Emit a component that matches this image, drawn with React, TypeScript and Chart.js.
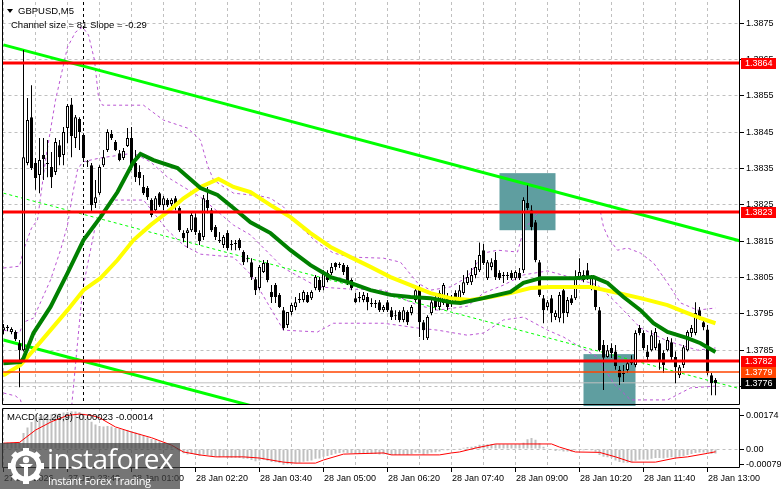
import React, { useEffect, useRef, useState } from "react";
import { Chart, registerables } from "chart.js";
Chart.register(...registerables);

// ---------------- DATA ----------------
// GBPUSD M5 candles, bar index 0 = 27 Jan 22:20, one bar per 5 minutes
const opens = [
  1.37905,1.37911,1.37900,1.37900,1.37869,1.37850,1.38365,1.38491,1.38365,1.38332,
  1.38387,1.38365,1.38354,1.38340,1.38414,1.38387,1.38461,1.38526,1.38434,1.38486,
  1.38442,1.38370,1.38359,1.38255,1.38282,1.38359,1.38401,1.38445,1.38423,1.38392,
  1.38379,1.38412,1.38434,1.38365,1.38340,1.38299,1.38296,1.38263,1.38235,1.38282,
  1.38249,1.38263,1.38252,1.38268,1.38241,1.38172,1.38172,1.38180,1.38216,1.38172,
  1.38161,1.38263,1.38235,1.38189,1.38153,1.38139,1.38172,1.38139,1.38145,1.38153,
  1.38120,1.38103,1.38092,1.38045,1.38021,1.38065,1.38090,1.38010,1.38029,1.38002,
  1.37960,1.37919,1.37955,1.37969,1.37991,1.37988,1.38002,1.37993,1.38021,1.38043,
  1.38024,1.38062,1.38062,1.38090,1.38087,1.38084,1.38079,1.38043,1.37993,1.37996,
  1.37988,1.37996,1.37980,1.37977,1.37982,1.37960,1.37982,1.37960,1.37946,1.37955,
  1.37933,1.37955,1.37952,1.37988,1.38021,1.37927,1.37883,1.37952,1.37993,1.37969,
  1.37980,1.37996,1.37980,1.38007,1.37988,1.38007,1.38035,1.38037,1.38057,1.38070,
  1.38125,1.38048,1.38079,1.38098,1.38062,1.38057,1.38054,1.38062,1.38048,1.38062,
  1.38070,1.38255,1.38235,1.38202,1.38092,1.37993,1.37969,1.37993,1.37941,1.37938,
  1.38015,1.37952,1.37993,1.37993,1.38051,1.38057,1.38070,1.38024,1.38024,1.37960,
  1.37864,1.37831,1.37856,1.37846,1.37796,1.37787,1.37795,1.37823,1.37809,1.37911,
  1.37897,1.37846,1.37850,1.37856,1.37869,1.37842,1.37850,1.37872,1.37831,1.37781,
  1.37809,1.37850,1.37897,1.37897,1.37960,1.37927,1.37907,1.37781,1.37768
];
const highs = [
  1.37922,1.37919,1.37913,1.37905,1.37878,1.38676,1.38544,1.38579,1.38379,1.38434,
  1.38434,1.38428,1.38395,1.38434,1.38428,1.38464,1.38527,1.38544,1.38497,1.38491,
  1.38447,1.38373,1.38365,1.38318,1.38359,1.38401,1.38458,1.38456,1.38428,1.38401,
  1.38406,1.38461,1.38464,1.38401,1.38359,1.38332,1.38302,1.38268,1.38274,1.38285,
  1.38274,1.38268,1.38268,1.38274,1.38246,1.38180,1.38186,1.38233,1.38227,1.38180,
  1.38277,1.38299,1.38241,1.38194,1.38175,1.38167,1.38180,1.38153,1.38153,1.38158,
  1.38125,1.38112,1.38103,1.38051,1.38084,1.38098,1.38098,1.38029,1.38035,1.38007,
  1.37969,1.37933,1.37980,1.37996,1.38007,1.38015,1.38010,1.38015,1.38057,1.38051,
  1.38070,1.38070,1.38090,1.38092,1.38092,1.38090,1.38084,1.38048,1.38007,1.38010,
  1.38010,1.38007,1.37993,1.37988,1.37988,1.37974,1.37988,1.37969,1.37960,1.37960,
  1.37969,1.37960,1.37974,1.38021,1.38029,1.37933,1.37946,1.37993,1.38007,1.38015,
  1.38035,1.38007,1.38002,1.38015,1.38029,1.38057,1.38070,1.38076,1.38098,1.38146,
  1.38142,1.38098,1.38103,1.38120,1.38070,1.38065,1.38065,1.38070,1.38070,1.38076,
  1.38271,1.38304,1.38249,1.38208,1.38098,1.38002,1.37988,1.38002,1.37960,1.38010,
  1.38029,1.37996,1.38002,1.38070,1.38103,1.38070,1.38090,1.38057,1.38043,1.37969,
  1.37878,1.37864,1.37869,1.37864,1.37806,1.37809,1.37823,1.37836,1.37905,1.37919,
  1.37905,1.37864,1.37905,1.37911,1.37878,1.37850,1.37886,1.37883,1.37846,1.37809,
  1.37864,1.37905,1.37919,1.37982,1.37969,1.37938,1.37919,1.37787,1.37773
];
const lows = [
  1.37894,1.37902,1.37894,1.37875,1.37748,1.37846,1.38359,1.38346,1.38291,1.38282,
  1.38318,1.38326,1.38296,1.38332,1.38359,1.38359,1.38419,1.38381,1.38406,1.38401,
  1.38368,1.38354,1.38230,1.38241,1.38277,1.38354,1.38395,1.38428,1.38398,1.38370,
  1.38373,1.38409,1.38346,1.38313,1.38304,1.38277,1.38263,1.38216,1.38230,1.38244,
  1.38235,1.38244,1.38246,1.38235,1.38175,1.38147,1.38131,1.38175,1.38167,1.38139,
  1.38153,1.38227,1.38175,1.38153,1.38145,1.38131,1.38125,1.38125,1.38125,1.38125,
  1.38084,1.38092,1.38043,1.38002,1.38015,1.38062,1.38037,1.37980,1.37980,1.37966,
  1.37905,1.37911,1.37946,1.37960,1.37980,1.37982,1.37980,1.37988,1.38015,1.38010,
  1.38015,1.38037,1.38057,1.38070,1.38076,1.38057,1.38029,1.38015,1.37980,1.37982,
  1.37982,1.37960,1.37969,1.37966,1.37955,1.37955,1.37955,1.37933,1.37933,1.37927,
  1.37927,1.37919,1.37946,1.37982,1.37886,1.37878,1.37878,1.37946,1.37960,1.37960,
  1.37974,1.37960,1.37969,1.37982,1.37982,1.38002,1.38029,1.38029,1.38048,1.38065,
  1.38084,1.38043,1.38070,1.38043,1.38043,1.38035,1.38043,1.38043,1.38043,1.38043,
  1.38062,1.38235,1.38180,1.38092,1.37996,1.37924,1.37960,1.37927,1.37933,1.37927,
  1.37924,1.37941,1.37974,1.37988,1.38043,1.38037,1.38043,1.38015,1.37960,1.37846,
  1.37740,1.37829,1.37828,1.37796,1.37754,1.37762,1.37787,1.37809,1.37803,1.37891,
  1.37850,1.37823,1.37846,1.37850,1.37796,1.37787,1.37846,1.37823,1.37759,1.37773,
  1.37801,1.37846,1.37886,1.37891,1.37933,1.37905,1.37781,1.37726,1.37726
];
const closes = [
  1.37913,1.37914,1.37908,1.37880,1.37850,1.38381,1.38483,1.38351,1.38324,1.38373,
  1.38376,1.38362,1.38326,1.38423,1.38381,1.38450,1.38522,1.38439,1.38491,1.38450,
  1.38379,1.38367,1.38249,1.38271,1.38354,1.38381,1.38450,1.38434,1.38401,1.38373,
  1.38398,1.38434,1.38354,1.38326,1.38324,1.38282,1.38271,1.38222,1.38268,1.38249,
  1.38268,1.38249,1.38263,1.38249,1.38180,1.38158,1.38180,1.38222,1.38175,1.38150,
  1.38268,1.38241,1.38180,1.38161,1.38150,1.38161,1.38131,1.38142,1.38142,1.38131,
  1.38092,1.38100,1.38051,1.38015,1.38079,1.38090,1.38043,1.37996,1.37996,1.37969,
  1.37911,1.37955,1.37974,1.37982,1.37988,1.38010,1.37982,1.38010,1.38051,1.38015,
  1.38062,1.38043,1.38079,1.38079,1.38084,1.38065,1.38035,1.38021,1.37982,1.37993,
  1.38002,1.37982,1.37977,1.37980,1.37960,1.37969,1.37960,1.37941,1.37943,1.37933,
  1.37960,1.37927,1.37969,1.38015,1.37927,1.37905,1.37941,1.37982,1.37969,1.38007,
  1.38029,1.37969,1.37996,1.37988,1.38015,1.38037,1.38051,1.38057,1.38079,1.38112,
  1.38090,1.38092,1.38092,1.38051,1.38048,1.38054,1.38057,1.38048,1.38065,1.38048,
  1.38263,1.38241,1.38189,1.38098,1.38002,1.37960,1.37982,1.37952,1.37952,1.38002,
  1.37952,1.37988,1.37980,1.38051,1.38065,1.38043,1.38051,1.38051,1.37969,1.37850,
  1.37829,1.37850,1.37842,1.37806,1.37775,1.37784,1.37814,1.37814,1.37897,1.37897,
  1.37856,1.37831,1.37891,1.37900,1.37823,1.37809,1.37878,1.37831,1.37803,1.37803,
  1.37858,1.37900,1.37911,1.37952,1.37941,1.37913,1.37787,1.37759,1.37759
];

// moving averages (bar index -> price)
const greenMaIdx = [0,4.25,5,7.5,11.75,16,20,24.25,28.5,32.5,34.25,37.5,43.5,49.25,53.5,57.5,61.75,66.75,71.75,76.75,81.75,86.75,91.75,96.75,101.75,106.75,111.75,114.25,120,126.75,130,134.25,142.5,147.5,151,155,159.25,162.5,166,171,174.25,178];
const greenMaVal = [1.37814,1.37817,1.37828,1.37897,1.37969,1.38062,1.38153,1.38216,1.38285,1.38368,1.38390,1.38373,1.38351,1.38296,1.38277,1.38241,1.38202,1.38172,1.38125,1.38084,1.38051,1.38035,1.38015,1.38002,1.37996,1.37993,1.37982,1.37980,1.37993,1.38010,1.38035,1.38048,1.38048,1.38051,1.38035,1.37996,1.37960,1.37924,1.37900,1.37883,1.37869,1.37845];
const yellowMaIdx = [0,4.25,7.5,11.75,16,20,24.25,28.5,32.5,36.75,41,45,49.25,53.75,57.5,61.75,66.75,71.75,76.75,81.75,86.75,91.75,96.75,101.75,106.75,111.75,116.75,121.75,126.75,131.75,136.75,146.75,152.5,159.25,166,171,174.25,178];
const yellowMaVal = [1.37781,1.37809,1.37850,1.37905,1.37960,1.38015,1.38048,1.38098,1.38153,1.38194,1.38230,1.38268,1.38299,1.38321,1.38299,1.38285,1.38249,1.38216,1.38172,1.38134,1.38106,1.38079,1.38051,1.38029,1.38007,1.37993,1.37988,1.37996,1.38007,1.38021,1.38024,1.38024,1.38010,1.37993,1.37974,1.37952,1.37938,1.37924];

// Bollinger bands
const bbUpperIdx = [0,4,5,7,8.5,10.5,13,16,18,19.75,21.25,22.75,23.75,24.75,35,40,46,49.25,51,52.5,57.5,64.25,66.75,70,74.25,78.5,82.5,86.75,95,99.25,103.5,106.75,111.75,116,120,123.5,128.5,130,133.5,136.75,149.25,150,151.25,153.5,156,159.25,162.5,166,169.25,173.5,178];
const bbUpperVal = [1.38076,1.38081,1.38125,1.38186,1.38208,1.38373,1.38538,1.38684,1.38725,1.38739,1.38717,1.38648,1.38546,1.38524,1.38524,1.38483,1.38461,1.38428,1.38359,1.38318,1.38282,1.38274,1.38268,1.38244,1.38189,1.38145,1.38117,1.38106,1.38103,1.38092,1.38035,1.38015,1.38024,1.38051,1.38117,1.38125,1.38120,1.38180,1.38227,1.38230,1.38230,1.38189,1.38158,1.38125,1.38131,1.38117,1.38090,1.38035,1.37980,1.37960,1.37966];
const bbMiddleIdx = [0,4,5,7.5,11.75,14.25,16,17.25,18.5,19.75,24.25,32.5,36.75,41,45,49.25,52.5,57.5,61.75,70,78.5,86.75,95,103.5,108.5,116,120,125,130,136,144.25,148.5,152.5,159.25,166,173.5,178];
const bbMiddleVal = [1.37905,1.37897,1.37927,1.37938,1.38043,1.38125,1.38194,1.38277,1.38346,1.38368,1.38379,1.38392,1.38368,1.38326,1.38299,1.38271,1.38241,1.38194,1.38167,1.38076,1.38024,1.38018,1.38015,1.37974,1.37960,1.37971,1.38007,1.38029,1.38057,1.38068,1.38043,1.38029,1.37988,1.37911,1.37875,1.37850,1.37856];
const bbLowerIdx = [0,3,4.25,5.5,8,15,16.75,17.25,18.5,19.75,21,23,26.75,35,41,45,49.25,57.5,61.75,70,78.5,82.5,95,103.5,108.5,116,120,125,130,136,140,144.25,148.5,152.5,156.75,166,171.75,178];
const bbLowerVal = [1.37732,1.37724,1.37713,1.37658,1.37550,1.37550,1.37658,1.37721,1.37869,1.38015,1.38084,1.38194,1.38263,1.38263,1.38180,1.38139,1.38114,1.38106,1.38059,1.37905,1.37900,1.37924,1.37924,1.37911,1.37905,1.37891,1.37897,1.37933,1.37941,1.37905,1.37886,1.37858,1.37831,1.37759,1.37713,1.37713,1.37746,1.37751];

// regression channel (end points)
const channelIdx = [0, 184];
const channelUpper = [1.38690, 1.38151];
const channelMiddle = [1.38282, 1.37744];
const channelLower = [1.37878, 1.37340];

// horizontal levels
const redLevels = [1.3864, 1.3823, 1.3782];
const orangeLevel = 1.3779;
const bidLevel = 1.3776;
const levelLabelValues = [1.3864, 1.3823, 1.3782, 1.3779, 1.3776];

// highlighted zones
const zoneStartIdx = [124, 145];
const zoneEndIdx = [138, 158];
const zoneTop = [1.38337, 1.37839];
const zoneBottom = [1.38180, 1.37690];

const daySeparatorIdx = 20;

// axis ticks
const priceTicks = [1.3775,1.3785,1.3795,1.3805,1.3815,1.3825,1.3835,1.3845,1.3855,1.3865,1.3875];
const gridIdx = [0,8,16,24,32,40,48,56,64,72,80,88,96,104,112,120,128,136,144,152,160,168,176];
const timeLabelIdx = [0,16,32,48,64,80,96,112,128,144,160,176];
const timeLabels = ["27 Jan 2026","27 Jan 23:40","28 Jan 01:00","28 Jan 02:20","28 Jan 03:40","28 Jan 05:00","28 Jan 06:20","28 Jan 07:40","28 Jan 09:00","28 Jan 10:20","28 Jan 11:40","28 Jan 13:00"];

// MACD(12,26,9)
const macdHist = [
  0.00033,0.00034,0.00034,0.00033,0.00036,0.00082,0.00110,0.00138,0.00159,0.00164,
  0.00172,0.00178,0.00178,0.00182,0.00182,0.00187,0.00190,0.00194,0.00192,0.00190,
  0.00180,0.00165,0.00140,0.00125,0.00118,0.00115,0.00118,0.00115,0.00108,0.00102,
  0.00098,0.00098,0.00092,0.00085,0.00078,0.00068,0.00060,0.00052,0.00048,0.00040,
  0.00033,0.00022,0.00015,0.00005,-0.00012,-0.00022,-0.00028,-0.00025,-0.00030,-0.00035,
  -0.00028,-0.00030,-0.00036,-0.00040,-0.00042,-0.00040,-0.00044,-0.00045,-0.00045,-0.00046,
  -0.00050,-0.00050,-0.00056,-0.00062,-0.00058,-0.00055,-0.00060,-0.00066,-0.00068,-0.00072,
  -0.00080,-0.00078,-0.00076,-0.00074,-0.00070,-0.00065,-0.00062,-0.00058,-0.00050,-0.00048,
  -0.00040,-0.00036,-0.00030,-0.00024,-0.00020,-0.00018,-0.00020,-0.00022,-0.00026,-0.00026,
  -0.00024,-0.00025,-0.00026,-0.00026,-0.00028,-0.00027,-0.00028,-0.00030,-0.00030,-0.00031,
  -0.00028,-0.00030,-0.00026,-0.00018,-0.00022,-0.00028,-0.00024,-0.00018,-0.00016,-0.00012,
  -0.00006,-0.00006,-0.00004,-0.00003,0.00002,0.00006,0.00010,0.00012,0.00016,0.00022,
  0.00024,0.00024,0.00026,0.00026,0.00025,0.00024,0.00024,0.00023,0.00024,0.00024,
  0.00032,0.00050,0.00056,0.00048,0.00030,0.00012,0.00004,-0.00004,-0.00010,-0.00008,
  -0.00012,-0.00012,-0.00014,-0.00006,-0.00004,-0.00006,-0.00005,-0.00006,-0.00014,-0.00030,
  -0.00040,-0.00042,-0.00045,-0.00058,-0.00066,-0.00070,-0.00070,-0.00068,-0.00060,-0.00055,
  -0.00054,-0.00055,-0.00050,-0.00046,-0.00046,-0.00048,-0.00044,-0.00042,-0.00044,-0.00040,
  -0.00036,-0.00030,-0.00026,-0.00020,-0.00018,-0.00018,-0.00022,-0.00024,-0.00023
];
const signalIdx = [0,4,8,12,16,19,22,24,28,32,37,42,45,49,53,60,64,70,73,78,80,85,95,97,109,112,114,118,123,137,139,143,149,153,157,163,168,171,176,178];
const signalVal = [0.00030,0.00034,0.00097,0.00140,0.00172,0.00179,0.00172,0.00160,0.00113,0.00087,0.00058,0.00020,-0.00015,-0.00030,-0.00040,-0.00040,-0.00046,-0.00067,-0.00072,-0.00072,-0.00056,-0.00026,-0.00020,-0.00030,-0.00030,-0.00020,-0.00015,0.00005,0.00026,0.00026,0.00010,-0.00015,-0.00017,-0.00040,-0.00067,-0.00067,-0.00046,-0.00040,-0.00022,-0.00014];
const macdTicks = [0.00174, 0, -0.00079];
const macdTickLabels = ["0.00174", "0.00", "-0.00079"];

// ---------------- STYLE / LAYOUT ----------------
const FONT = '"Liberation Sans", Arial, sans-serif';
const X_MIN = -0.25;
const X_MAX = 184.125;
const GRID = "#c0c0c0";
const levelLabelColors = ["#ff0000", "#ff0000", "#ff0000", "#ff4500", "#000000"];
const ZONE = "#5f9ea0";
const MACD_TOP = 406;

const pts = (idx: number[], vals: number[]) => idx.map((x, k) => ({ x, y: vals[k] }));
const hline = (v: number) => [{ x: X_MIN, y: v }, { x: X_MAX, y: v }];

const lineDs = (data: any[], color: string, width: number, order: number, dash: number[] = []) => ({
  type: "line",
  data,
  borderColor: color,
  backgroundColor: color,
  borderWidth: width,
  borderDash: dash,
  pointRadius: 0,
  tension: 0,
  fill: false,
  order,
});

const zeroPad = (s: any) => {
  s.paddingTop = 0;
  s.paddingBottom = 0;
  s.paddingLeft = 0;
  s.paddingRight = 0;
};

const xScaleBase = (): any => ({
  type: "linear",
  min: X_MIN,
  max: X_MAX,
  offset: false,
  afterBuildTicks: (s: any) => {
    s.ticks = gridIdx.map((v) => ({ value: v }));
  },
  ticks: { display: false },
  grid: { color: GRID, drawTicks: false, lineWidth: 1, offset: false },
  border: { display: false, dash: [3, 3] },
  afterFit: (s: any) => {
    s.height = 0;
    zeroPad(s);
  },
});

const framePlugin = (drawTop: boolean) => ({
  id: "frame",
  afterDraw(chart: any) {
    const { ctx, chartArea: a } = chart;
    ctx.save();
    ctx.strokeStyle = "#000";
    ctx.lineWidth = 1;
    ctx.setLineDash([]);
    ctx.beginPath();
    const l = Math.floor(a.left) + 0.5;
    const r = Math.round(a.right) - 0.5;
    const b = Math.round(a.bottom) - 0.5;
    const t = Math.round(a.top) + 0.5;
    ctx.moveTo(l, drawTop ? t : 0);
    ctx.lineTo(l, b);
    ctx.lineTo(r, b);
    ctx.lineTo(r, drawTop ? t : 0);
    if (drawTop) ctx.lineTo(l, t);
    ctx.stroke();
    ctx.restore();
  },
});

const zonesPlugin = {
  id: "zones",
  beforeDatasetsDraw(chart: any) {
    const { ctx, scales } = chart;
    ctx.save();
    ctx.fillStyle = ZONE;
    zoneStartIdx.forEach((s, k) => {
      const x1 = scales.x.getPixelForValue(s);
      const x2 = scales.x.getPixelForValue(zoneEndIdx[k]);
      const y1 = scales.y.getPixelForValue(zoneTop[k]);
      const y2 = scales.y.getPixelForValue(zoneBottom[k]);
      ctx.fillRect(x1, y1, x2 - x1, y2 - y1);
    });
    ctx.restore();
  },
};

const levelLabelsPlugin = {
  id: "levelLabels",
  afterDraw(chart: any) {
    const { ctx, scales, chartArea } = chart;
    ctx.save();
    ctx.font = `9px ${FONT}`;
    ctx.textBaseline = "middle";
    ctx.textAlign = "left";
    levelLabelValues.forEach((v, k) => {
      const y = Math.round(scales.y.getPixelForValue(v));
      const x = Math.round(chartArea.right) + 1;
      ctx.fillStyle = levelLabelColors[k];
      ctx.fillRect(x, y - 5, 35, 11);
      ctx.fillStyle = "#ffffff";
      ctx.fillText(v.toFixed(4), x + 4, y + 0.5);
    });
    ctx.restore();
  },
};

const timeTicksPlugin = {
  id: "timeTicks",
  afterDraw(chart: any) {
    const { ctx, chartArea, scales } = chart;
    ctx.save();
    ctx.strokeStyle = "#000";
    ctx.lineWidth = 1;
    timeLabelIdx.forEach((idx) => {
      const px = Math.floor(scales.x.getPixelForValue(idx)) + 0.5;
      ctx.beginPath();
      ctx.moveTo(px, chartArea.bottom);
      ctx.lineTo(px, chartArea.bottom + 4);
      ctx.stroke();
    });
    ctx.restore();
  },
};

function buildMainConfig(): any {
  const bodies = {
    type: "bar",
    data: opens.map((o, i) => ({ x: i, y: [o, closes[i]] })),
    backgroundColor: opens.map((o, i) => (closes[i] >= o ? "#ffffff" : "#000000")),
    borderColor: "#000000",
    borderWidth: 1,
    borderSkipped: false,
    barThickness: 3,
    grouped: false,
    inflateAmount: 0,
    order: 5,
  };
  const wicks = {
    type: "bar",
    data: highs.map((h, i) => ({ x: i, y: [lows[i], h] })),
    backgroundColor: "#000000",
    borderWidth: 0,
    barThickness: 1,
    grouped: false,
    inflateAmount: 0,
    order: 6,
  };
  const datasets: any[] = [
    ...redLevels.map((v) => lineDs(hline(v), "#ff0000", 3, 0)),
    lineDs(hline(orangeLevel), "#ff4500", 1.5, 1),
    lineDs(pts(greenMaIdx, greenMaVal), "#008000", 4, 2),
    lineDs(pts(yellowMaIdx, yellowMaVal), "#ffff00", 4, 3),
    bodies,
    wicks,
    lineDs(pts(channelIdx, channelUpper), "#00ff00", 3, 7),
    lineDs(pts(channelIdx, channelLower), "#00ff00", 3, 7),
    lineDs(pts(channelIdx, channelMiddle), "#00ff00", 1, 8, [3, 3]),
    lineDs(pts(bbUpperIdx, bbUpperVal), "#ba55d3", 1, 9, [3, 3]),
    lineDs(pts(bbMiddleIdx, bbMiddleVal), "#ba55d3", 1, 9, [3, 3]),
    lineDs(pts(bbLowerIdx, bbLowerVal), "#ba55d3", 1, 9, [3, 3]),
    lineDs(
      [
        { x: daySeparatorIdx, y: 1.37 },
        { x: daySeparatorIdx, y: 1.39 },
      ],
      "#000000",
      1,
      4,
      [3, 3]
    ),
    lineDs(hline(bidLevel), "#c0c0c0", 1, 10),
  ];
  return {
    type: "bar",
    data: { datasets },
    options: {
      responsive: false,
      maintainAspectRatio: false,
      animation: false,
      events: [],
      layout: { padding: { left: 2.5, top: 2, right: 0, bottom: 1 } },
      plugins: { legend: { display: false }, tooltip: { enabled: false } },
      scales: {
        x: xScaleBase(),
        y: {
          type: "linear",
          position: "right",
          min: 1.37699,
          max: 1.38808,
          afterBuildTicks: (s: any) => {
            s.ticks = priceTicks.map((v) => ({ value: v }));
          },
          ticks: {
            callback: (v: any) => Number(v).toFixed(4),
            color: "#000",
            font: { family: FONT, size: 9 },
            padding: 2,
          },
          grid: { color: GRID, tickColor: "#000", tickLength: 4, drawTicks: true },
          border: { display: false, dash: [3, 3] },
          afterFit: (s: any) => {
            s.width = 41;
            zeroPad(s);
          },
        },
      },
    },
    plugins: [zonesPlugin, framePlugin(false), levelLabelsPlugin],
  };
}

function buildMacdConfig(): any {
  const datasets: any[] = [
    lineDs(pts(signalIdx, signalVal), "#ff0000", 1, 0),
    {
      type: "bar",
      data: macdHist.map((v, i) => ({ x: i, y: v })),
      backgroundColor: "#c0c0c0",
      borderWidth: 0,
      barThickness: 2,
      grouped: false,
      inflateAmount: 0,
      order: 1,
    },
  ];
  return {
    type: "bar",
    data: { datasets },
    options: {
      responsive: false,
      maintainAspectRatio: false,
      animation: false,
      events: [],
      layout: { padding: { left: 2.5, top: 2, right: 0, bottom: 21 } },
      plugins: { legend: { display: false }, tooltip: { enabled: false } },
      scales: {
        x: xScaleBase(),
        y: {
          type: "linear",
          position: "right",
          min: -0.00097,
          max: 0.0021,
          afterBuildTicks: (s: any) => {
            s.ticks = macdTicks.map((v) => ({ value: v }));
          },
          ticks: {
            callback: (_v: any, i: number) => macdTickLabels[i],
            color: "#000",
            font: { family: FONT, size: 9 },
            padding: 2,
          },
          grid: {
            color: (c: any) => (c.tick && c.tick.value === 0 ? GRID : "rgba(0,0,0,0)"),
            tickColor: "#000",
            tickLength: 4,
            drawTicks: true,
          },
          border: { display: false, dash: [3, 3] },
          afterFit: (s: any) => {
            s.width = 41;
            zeroPad(s);
          },
        },
      },
    },
    plugins: [framePlugin(true), timeTicksPlugin],
  };
}

function Gear() {
  const teeth = [0, 45, 90, 135, 180, 225, 270, 315];
  return (
    <svg width="38" height="38" viewBox="0 0 38 38" style={{ position: "absolute", left: 7, top: 447 }}>
      {teeth.map((a) => (
        <rect key={a} x="16" y="1" width="6" height="7" fill="#ffffff" transform={`rotate(${a} 19 19)`} />
      ))}
      <circle cx="19" cy="19" r="13" fill="none" stroke="#ffffff" strokeWidth="5" />
      <circle cx="19" cy="13" r="3.2" fill="#ffffff" />
      <path d="M12 17 L26 17 L23 20 L21 20 L21 30 L17 30 L17 20 L15 20 Z" fill="#ffffff" />
    </svg>
  );
}

export default function App() {
  const mainRef = useRef<HTMLCanvasElement>(null);
  const macdRef = useRef<HTMLCanvasElement>(null);
  const [labelPos, setLabelPos] = useState<{ x: number; y: number }[]>([]);
  useEffect(() => {
    const c1 = new Chart(mainRef.current as HTMLCanvasElement, buildMainConfig());
    const c2 = new Chart(macdRef.current as HTMLCanvasElement, buildMacdConfig());
    const xs = c2.scales.x as any;
    const bottom = (c2.chartArea as any).bottom;
    setLabelPos(timeLabelIdx.map((idx) => ({ x: Math.floor(xs.getPixelForValue(idx)) + 1, y: MACD_TOP + bottom + 5 })));
    return () => {
      c1.destroy();
      c2.destroy();
    };
  }, []);
  const txt: React.CSSProperties = {
    position: "absolute",
    fontFamily: FONT,
    fontSize: 9.5,
    lineHeight: "11px",
    color: "#000",
    whiteSpace: "nowrap",
  };
  return (
    <div
      style={{
        position: "fixed",
        left: 0,
        top: 0,
        width: 781,
        height: 489,
        background: "#ffffff",
        overflow: "hidden",
      }}
    >
      <canvas ref={mainRef} width={781} height={406} style={{ position: "absolute", left: 0, top: 0, width: 781, height: 406 }} />
      <canvas ref={macdRef} width={781} height={83} style={{ position: "absolute", left: 0, top: MACD_TOP, width: 781, height: 83 }} />
      {labelPos.map((p, k) => (
        <div key={k} style={{ ...txt, fontSize: 9, left: p.x, top: p.y }}>
          {timeLabels[k]}
        </div>
      ))}
      <div
        style={{
          position: "absolute",
          left: 7,
          top: 9,
          width: 0,
          height: 0,
          borderLeft: "3.5px solid transparent",
          borderRight: "3.5px solid transparent",
          borderTop: "4px solid #000",
        }}
      />
      <div style={{ ...txt, left: 18, top: 5 }}>GBPUSD,M5</div>
      <div style={{ ...txt, left: 11, top: 19 }}>Channel size = 81 Slope = -0.29</div>
      <div style={{ ...txt, left: 7, top: 411 }}>MACD(12,26,9) -0.00023 -0.00014</div>
      <div
        style={{
          position: "absolute",
          left: 0,
          top: 443,
          width: 180,
          height: 46,
          background: "rgba(64,64,64,0.72)",
        }}
      />
      <Gear />
      <div
        style={{
          position: "absolute",
          left: 47,
          top: 442,
          fontFamily: '"Open Sans", "Liberation Sans", sans-serif',
          fontSize: 28,
          lineHeight: "32px",
          letterSpacing: -0.5,
          color: "#ffffff",
          whiteSpace: "nowrap",
        }}
      >
        instaforex
      </div>
      <div
        style={{
          position: "absolute",
          left: 48,
          top: 474,
          fontFamily: '"Open Sans", "Liberation Sans", sans-serif',
          fontSize: 11,
          lineHeight: "13px",
          letterSpacing: -0.3,
          color: "#ffffff",
          whiteSpace: "nowrap",
        }}
      >
        Instant Forex Trading
      </div>
    </div>
  );
}
